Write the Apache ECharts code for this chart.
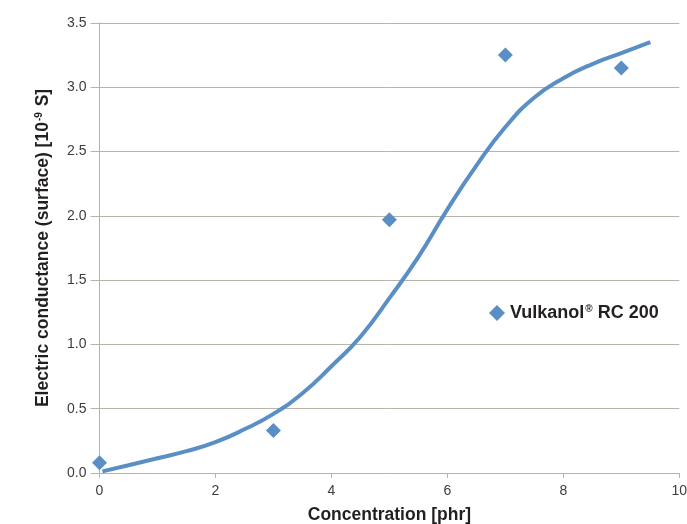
<!DOCTYPE html>
<html>
<head>
<meta charset="utf-8">
<script src="https://cdn.jsdelivr.net/npm/echarts@6/dist/echarts.min.js"></script>
<style>html,body{margin:0;padding:0;background:#fff}#c{width:687px;height:524px}</style>
</head>
<body>
<div id="c"></div>
<script>
var seriesName = 'Vulkanol® RC 200';
var pointX = [0, 3, 5, 7, 9];
var pointY = [0.08, 0.33, 1.97, 3.25, 3.15];
var curveX = [0.05, 0.5, 1, 1.5, 2, 2.5, 3, 3.5, 4, 4.5, 5, 5.5, 6, 6.5, 7, 7.5, 8, 8.5, 9, 9.5];
var curveY = [0.013, 0.06, 0.115, 0.17, 0.24, 0.34, 0.46, 0.62, 0.83, 1.06, 1.36, 1.68, 2.05, 2.39, 2.69, 2.92, 3.07, 3.18, 3.265, 3.35];
var xTicks = [0, 2, 4, 6, 8, 10];
var yTicks = [0, 0.5, 1, 1.5, 2, 2.5, 3, 3.5];

var blue = '#5a8fc5';
var gridColor = '#b8b4ab';
var dark = '#231f20';
var chart = echarts.init(document.getElementById('c'));
chart.setOption({
  animation: false,
  textStyle: { fontFamily: 'Liberation Sans, Arial, sans-serif' },
  grid: { left: 99.5, right: 7.7, top: 22.9, bottom: 51, containLabel: false, outerBoundsMode: 'none' },
  xAxis: {
    type: 'value', min: xTicks[0], max: xTicks[xTicks.length - 1], interval: 2,
    name: 'Concentration [phr]', nameLocation: 'middle', nameGap: 33,
    nameTextStyle: { fontSize: 17.5, fontWeight: 'bold', color: dark },
    axisLine: { show: true, lineStyle: { color: gridColor, width: 1 } },
    axisTick: { show: true, length: 5, lineStyle: { color: gridColor } },
    axisLabel: { fontSize: 14, color: '#3d3d3d', margin: 11 },
    splitLine: { show: false }
  },
  yAxis: {
    type: 'value', min: yTicks[0], max: yTicks[yTicks.length - 1], interval: 0.5,
    name: '{a|Electric conductance (surface) [10}{s|-9}{a| S]}', nameLocation: 'middle', nameGap: 47,
    nameTextStyle: {
      color: dark,
      rich: {
        a: { fontSize: 17.5, fontWeight: 'bold', color: dark, fontFamily: 'Liberation Sans, Arial, sans-serif' },
        s: { fontSize: 10, fontWeight: 'bold', color: dark, verticalAlign: 'top', padding: [0, 1, 7, 1], fontFamily: 'Liberation Sans, Arial, sans-serif' }
      }
    },
    axisLine: { show: true, lineStyle: { color: gridColor, width: 1 } },
    axisTick: { show: true, length: 9, lineStyle: { color: gridColor } },
    axisLabel: { fontSize: 14, color: '#3d3d3d', margin: 13, formatter: function (v) { return v.toFixed(1); } },
    splitLine: { show: true, lineStyle: { color: gridColor, width: 1 } }
  },
  legend: {
    data: [seriesName], left: 484, top: 299, itemWidth: 16, itemHeight: 16, itemGap: 8,
    icon: 'diamond',
    formatter: function () { return '{a|Vulkanol}{r|®}{a| RC 200}'; },
    textStyle: {
      color: dark,
      rich: {
        a: { fontSize: 18, fontWeight: 'bold', color: dark, fontFamily: 'Liberation Sans, Arial, sans-serif' },
        r: { fontSize: 10, fontWeight: 'bold', color: dark, verticalAlign: 'top', padding: [0, 0, 6, 1], fontFamily: 'Liberation Sans, Arial, sans-serif' }
      }
    }
  },
  series: [
    {
      name: 'curve', type: 'line', smooth: 0.5, showSymbol: false, silent: true,
      lineStyle: { color: blue, width: 4 },
      data: curveX.map(function (x, i) { return [x, curveY[i]]; }),
      z: 2
    },
    {
      name: seriesName, type: 'scatter', symbol: 'diamond', symbolSize: 15,
      itemStyle: { color: blue, opacity: 1 },
      data: pointX.map(function (x, i) { return [x, pointY[i]]; }),
      z: 3
    }
  ]
});
</script>
</body>
</html>
